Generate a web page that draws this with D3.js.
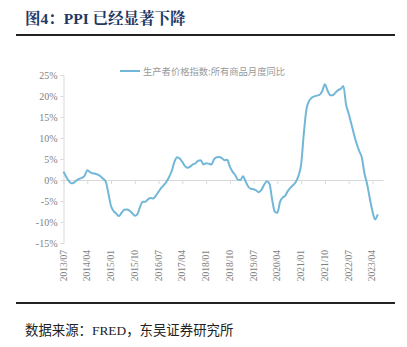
<!DOCTYPE html>
<html>
<head>
<meta charset="utf-8">
<script src="https://cdn.jsdelivr.net/npm/d3@7"></script>
<style>
  html, body { margin: 0; padding: 0; background: #fff; }
  svg { display: block; }
</style>
</head>
<body>
<svg id="chart" width="407" height="347"></svg>
<script>
// ---- data ----
const titleText = "图4：PPI 已经显著下降";
const sourceText = "数据来源：FRED，东吴证券研究所";
const seriesName = "生产者价格指数:所有商品月度同比";
const startYear = 2013, startMonth = 7; // first observation 2013/07
// US PPI all commodities, YoY %, monthly 2013/07 - 2023/06
const ppiYoY = [
  2.0, 0.8, -0.2, -0.8, -0.6, -0.1, 0.3, 0.5, 1.0, 2.3,
  1.9, 1.6, 1.5, 1.3, 0.9, 0.3, -0.4, -3.2, -6.2, -7.4,
  -8.0, -8.6, -7.8, -7.1, -7.0, -7.3, -7.9, -8.5, -8.1, -6.4,
  -5.2, -5.2, -4.6, -4.3, -4.4, -3.7, -2.8, -1.9, -1.2, -0.4,
  0.7, 2.2, 4.3, 5.4, 5.1, 4.3, 3.3, 2.9, 3.2, 3.7,
  4.0, 4.6, 4.7, 3.7, 4.0, 3.9, 3.7, 4.9, 5.4, 5.5,
  5.2, 4.7, 4.8, 3.2, 2.0, 1.2, 0.1, 0.0, 0.9, -0.4,
  -1.6, -2.1, -2.2, -2.5, -2.9, -2.3, -1.1, -0.3, -0.9, -4.6,
  -7.5, -7.8, -5.2, -4.2, -3.7, -2.6, -1.8, -1.2, -0.4, 1.0,
  3.7, 11.0, 16.8, 18.8, 19.6, 19.9, 20.1, 20.3, 21.2, 22.8,
  21.3, 20.2, 20.2, 20.8, 21.4, 21.7, 22.4, 18.0, 15.8, 13.4,
  10.9, 8.7, 6.9, 5.3, 1.5, -1.0, -4.4, -7.4, -9.4, -8.2
];
const xTickLabels = ["2013/07","2014/04","2015/01","2015/10","2016/07","2017/04","2018/01",
                     "2018/10","2019/07","2020/04","2021/01","2021/10","2022/07","2023/04"];
const yTicks = [25, 20, 15, 10, 5, 0, -5, -10, -15];

// ---- helpers ----
function labelToIndex(lbl) {
  const [y, m] = lbl.split("/").map(Number);
  return (y - startYear) * 12 + (m - startMonth);
}
const data = ppiYoY.map((v, i) => ({ i, v }));

const svg = d3.select("#chart");

// title
svg.append("text")
  .attr("x", 25).attr("y", 24)
  .attr("font-family", "'Liberation Serif','Noto Serif CJK SC','Noto Sans CJK SC',serif")
  .attr("font-weight", "bold")
  .attr("font-size", 15.5)
  .attr("fill", "#1f3864")
  .text(titleText);

svg.append("line").attr("x1", 16).attr("x2", 395).attr("y1", 35).attr("y2", 35)
  .attr("stroke", "#222").attr("stroke-width", 2.2);
svg.append("line").attr("x1", 16).attr("x2", 395).attr("y1", 303).attr("y2", 303)
  .attr("stroke", "#222").attr("stroke-width", 2.2);

svg.append("text")
  .attr("x", 25).attr("y", 335)
  .attr("font-family", "'Liberation Serif','Noto Sans CJK SC',serif")
  .attr("font-size", 13.4)
  .attr("fill", "#222")
  .text(sourceText);

// scales
const x = d3.scaleLinear().domain([0, 121]).range([63.5, 383]);
const y = d3.scaleLinear().domain([-15, 25]).range([243, 75]);

// y axis
const yAxis = d3.axisLeft(y).tickValues(yTicks).tickFormat(d => d + "%").tickSize(3).tickPadding(3);
const gy = svg.append("g").attr("transform", "translate(63.5,0)").call(yAxis);
gy.select(".domain").attr("stroke", "#d9d9d9");
gy.selectAll(".tick line").attr("stroke", "#d9d9d9");
gy.selectAll("text").attr("fill", "#7f7f7f")
  .attr("font-family", "'Liberation Serif',serif").attr("font-size", 10);

// x axis at zero
const xAxis = d3.axisBottom(x)
  .tickValues(xTickLabels.map(labelToIndex))
  .tickFormat("").tickSize(4).tickSizeOuter(0);
const gx = svg.append("g").attr("transform", `translate(0,${y(0)})`).call(xAxis);
gx.select(".domain").attr("stroke", "#d9d9d9");
gx.selectAll(".tick line").attr("stroke", "#d9d9d9");

// x labels at bottom, rotated
svg.append("g").selectAll("text").data(xTickLabels).join("text")
  .attr("transform", d => `translate(${x(labelToIndex(d)) + 3},250) rotate(-90)`)
  .attr("text-anchor", "end")
  .attr("font-family", "'Liberation Serif',serif")
  .attr("font-size", 9.5)
  .attr("fill", "#7f7f7f")
  .text(d => d);

// line
const line = d3.line().x(d => x(d.i)).y(d => y(d.v)).curve(d3.curveMonotoneX);
svg.append("path").datum(data)
  .attr("d", line)
  .attr("fill", "none")
  .attr("stroke", "#72b7d7")
  .attr("stroke-width", 2);

// legend
svg.append("line").attr("x1", 120).attr("x2", 140).attr("y1", 71).attr("y2", 71)
  .attr("stroke", "#72b7d7").attr("stroke-width", 2);
svg.append("text").attr("x", 143).attr("y", 74.5)
  .attr("font-family", "'Noto Sans CJK SC',sans-serif")
  .attr("font-size", 9.3)
  .attr("fill", "#999")
  .text(seriesName);
</script>
</body>
</html>
